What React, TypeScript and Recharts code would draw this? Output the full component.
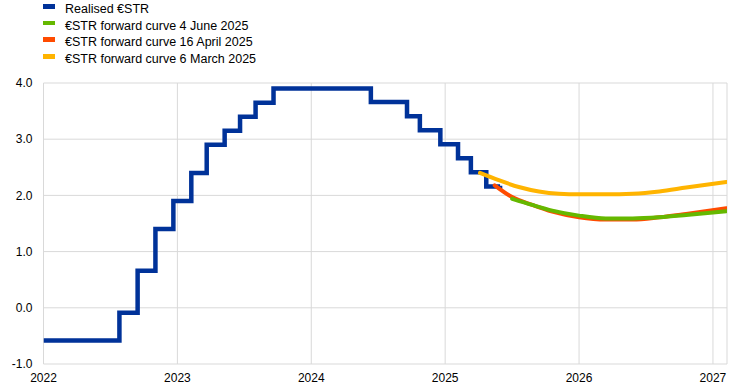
import React from "react";
import { LineChart, Line, XAxis, YAxis, CartesianGrid } from "recharts";

// realised €STR: [decimal year, rate] at each change (step after)
const realisedYears = [
  2022.0, 2022.567, 2022.703, 2022.836, 2022.97, 2023.104, 2023.219, 2023.353,
  2023.468, 2023.584, 2023.718, 2024.445, 2024.715, 2024.811, 2024.964,
  2025.096, 2025.192, 2025.307, 2025.41,
];
const realisedRates = [
  -0.58, -0.09, 0.66, 1.4, 1.9, 2.4, 2.9, 3.15, 3.4, 3.65, 3.9, 3.66, 3.41,
  3.16, 2.91, 2.66, 2.41, 2.16, 2.17,
];

const marchYears = [2025.26, 2025.4, 2025.55, 2025.7, 2025.85, 2026.0, 2026.2, 2026.4, 2026.6, 2026.8, 2027.1];
const marchRates = [2.4, 2.27, 2.15, 2.07, 2.03, 2.02, 2.02, 2.03, 2.07, 2.14, 2.24];

const aprilYears = [2025.37, 2025.5, 2025.65, 2025.8, 2026.0, 2026.2, 2026.4, 2026.6, 2026.8, 2027.1];
const aprilRates = [2.18, 1.97, 1.83, 1.71, 1.61, 1.57, 1.57, 1.61, 1.67, 1.77];

const juneYears = [2025.5, 2025.65, 2025.8, 2026.0, 2026.2, 2026.4, 2026.6, 2026.8, 2027.1];
const juneRates = [1.94, 1.83, 1.73, 1.64, 1.59, 1.59, 1.61, 1.65, 1.72];

const xTicks = [2022, 2023, 2024, 2025, 2026, 2027];
const yTicks = [-1, 0, 1, 2, 3, 4];

const series = [
  { name: "Realised €STR", color: "#003299" },
  { name: "€STR forward curve 4 June 2025", color: "#65B800" },
  { name: "€STR forward curve 16 April 2025", color: "#FF4B00" },
  { name: "€STR forward curve 6 March 2025", color: "#FFB400" },
];

const toPoints = (xs: number[], ys: number[]) => xs.map((x, i) => ({ x, y: ys[i] }));

const realised = toPoints(realisedYears, realisedRates);
const march = toPoints(marchYears, marchRates);
const april = toPoints(aprilYears, aprilRates);
const june = toPoints(juneYears, juneRates);

const font = "'Liberation Sans', Arial, sans-serif";

export default function App() {
  return (
    <div
      style={{
        position: "absolute",
        left: 0,
        top: 0,
        width: 742,
        height: 388,
        background: "#fff",
        fontFamily: font,
      }}
    >
      {/* legend */}
      <div style={{ position: "absolute", left: 0, top: 0, zIndex: 2 }}>
        {series.map((s, i) => (
          <div key={i} style={{ position: "absolute", top: i * 16.7, left: 0, width: 400, height: 17 }}>
            <div
              style={{
                position: "absolute",
                left: 43,
                top: 4,
                width: 12,
                height: 4.5,
                background: s.color,
              }}
            />
            <div
              style={{
                position: "absolute",
                left: 65,
                top: 1,
                fontSize: 12.5,
                lineHeight: "16px",
                color: "#000",
                whiteSpace: "nowrap",
              }}
            >
              {s.name}
            </div>
          </div>
        ))}
      </div>

      <LineChart
        width={742}
        height={388}
        margin={{ top: 83, right: 15, bottom: 0, left: 0 }}
      >
        <CartesianGrid stroke="#d9d9d9" strokeWidth={1} />
        <XAxis
          dataKey="x"
          type="number"
          domain={[2022, 2027.105]}
          ticks={xTicks}
          allowDataOverflow
          axisLine={false}
          tickLine={false}
          tickSize={0}
          tickMargin={9}
          height={24}
          tick={{ fontSize: 12, fill: "#000", fontFamily: font }}
        />
        <YAxis
          type="number"
          domain={[-1, 4]}
          ticks={yTicks}
          width={43.5}
          axisLine={false}
          tickLine={false}
          tickSize={0}
          tickMargin={11}
          tickFormatter={(v: number) => v.toFixed(1)}
          tick={{ fontSize: 12, fill: "#000", fontFamily: font }}
        />
        <Line
          data={realised}
          dataKey="y"
          type="stepAfter"
          stroke="#003299"
          strokeWidth={4.5}
          dot={false}
          isAnimationActive={false}
        />
        <Line
          data={march}
          dataKey="y"
          type="monotone"
          stroke="#FFB400"
          strokeWidth={4}
          strokeLinecap="round"
          dot={false}
          isAnimationActive={false}
        />
        <Line
          data={april}
          dataKey="y"
          type="monotone"
          stroke="#FF4B00"
          strokeWidth={4}
          strokeLinecap="round"
          dot={false}
          isAnimationActive={false}
        />
        <Line
          data={june}
          dataKey="y"
          type="monotone"
          stroke="#65B800"
          strokeWidth={4}
          strokeLinecap="round"
          dot={false}
          isAnimationActive={false}
        />
      </LineChart>
    </div>
  );
}
